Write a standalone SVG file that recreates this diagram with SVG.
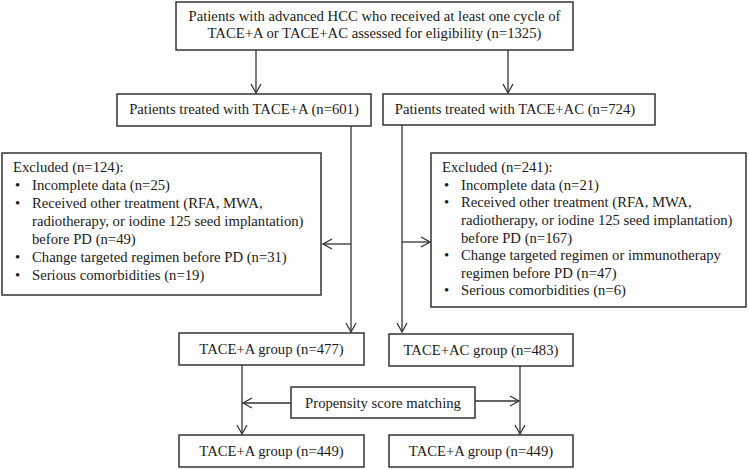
<svg xmlns="http://www.w3.org/2000/svg" width="749" height="470" viewBox="0 0 749 470">
<style>
.box{fill:#fff;stroke:#333;stroke-width:1.5}
.t{font-family:"Liberation Serif","Times New Roman",serif;font-size:14.7px;fill:#1a1a1a}
.c{text-anchor:middle}
.ln{fill:none;stroke:#333;stroke-width:1.3}
</style>
<defs>
<marker id="ah" viewBox="-10 -6 12 12" refX="0" refY="0" markerWidth="12" markerHeight="12" markerUnits="userSpaceOnUse" orient="auto">
<path d="M-9,-5 L0,0 L-9,5" fill="none" stroke="#333" stroke-width="1.3"/>
</marker>
</defs>
<rect width="749" height="470" fill="#fff"/>
<g id="connectors">
<path class="ln" d="M256 50 V93" marker-end="url(#ah)"/>
<path class="ln" d="M508 50 V93" marker-end="url(#ah)"/>
<path class="ln" d="M351 126 V332" marker-end="url(#ah)"/>
<path class="ln" d="M351 244 H323" marker-end="url(#ah)"/>
<path class="ln" d="M402 125 V332" marker-end="url(#ah)"/>
<path class="ln" d="M402 242 H430" marker-end="url(#ah)"/>
<path class="ln" d="M242 365 V434" marker-end="url(#ah)"/>
<path class="ln" d="M520 366 V434" marker-end="url(#ah)"/>
<path class="ln" d="M291 403 H243" marker-end="url(#ah)"/>
<path class="ln" d="M475 401 H519" marker-end="url(#ah)"/>
</g>
<g id="n-top">
<rect class="box" x="176" y="2" width="397" height="48"/>
<text class="t c" x="374.5" y="21">Patients with advanced HCC who received at least one cycle of</text>
<text class="t c" x="374.5" y="38">TACE+A or TACE+AC assessed for eligibility (n=1325)</text>
</g>
<g id="n-a601">
<rect class="box" x="117" y="94" width="254" height="32"/>
<text class="t c" x="244" y="114">Patients treated with TACE+A (n=601)</text>
</g>
<g id="n-ac724">
<rect class="box" x="383" y="94" width="272" height="31"/>
<text class="t c" x="515" y="114">Patients treated with TACE+AC (n=724)</text>
</g>
<g id="n-excl-a">
<rect class="box" x="2" y="153" width="319" height="142"/>
<text class="t" x="13" y="172">Excluded (n=124):</text>
<text class="t" x="15" y="190">•</text><text class="t" x="32" y="190">Incomplete data (n=25)</text>
<text class="t" x="15" y="208">•</text><text class="t" x="32" y="208">Received other treatment (RFA, MWA,</text>
<text class="t" x="32" y="226">radiotherapy, or iodine 125 seed implantation)</text>
<text class="t" x="32" y="244">before PD (n=49)</text>
<text class="t" x="15" y="262">•</text><text class="t" x="32" y="262">Change targeted regimen before PD (n=31)</text>
<text class="t" x="15" y="280">•</text><text class="t" x="32" y="280">Serious comorbidities (n=19)</text>
</g>
<g id="n-excl-ac">
<rect class="box" x="431" y="153" width="315" height="154"/>
<text class="t" x="442" y="172">Excluded (n=241):</text>
<text class="t" x="444" y="190">•</text><text class="t" x="461" y="190">Incomplete data (n=21)</text>
<text class="t" x="444" y="207">•</text><text class="t" x="461" y="207">Received other treatment (RFA, MWA,</text>
<text class="t" x="461" y="225">radiotherapy, or iodine 125 seed implantation)</text>
<text class="t" x="461" y="243">before PD (n=167)</text>
<text class="t" x="444" y="260">•</text><text class="t" x="461" y="260">Change targeted regimen or immunotherapy</text>
<text class="t" x="461" y="278">regimen before PD (n=47)</text>
<text class="t" x="444" y="295">•</text><text class="t" x="461" y="295">Serious comorbidities (n=6)</text>
</g>
<g id="n-a477">
<rect class="box" x="179" y="333" width="185" height="32"/>
<text class="t c" x="271.5" y="354">TACE+A group (n=477)</text>
</g>
<g id="n-ac483">
<rect class="box" x="389" y="334" width="184" height="32"/>
<text class="t c" x="481" y="355">TACE+AC group (n=483)</text>
</g>
<g id="n-psm">
<rect class="box" x="291" y="387" width="184" height="31"/>
<text class="t c" x="383" y="408">Propensity score matching</text>
</g>
<g id="n-a449-l">
<rect class="box" x="179" y="435" width="185" height="32"/>
<text class="t c" x="271.5" y="456">TACE+A group (n=449)</text>
</g>
<g id="n-a449-r">
<rect class="box" x="389" y="435" width="184" height="32"/>
<text class="t c" x="481" y="456">TACE+A group (n=449)</text>
</g>
</svg>
